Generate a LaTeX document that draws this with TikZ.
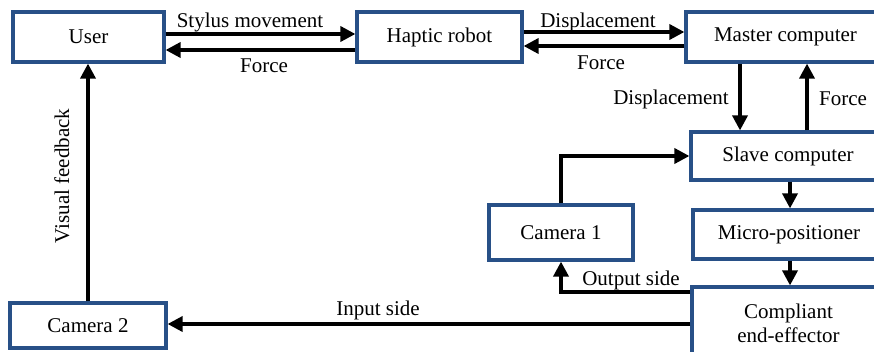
\documentclass[tikz,border=0pt]{standalone}
\usepackage{fontspec}
\setmainfont{Liberation Serif}
\usetikzlibrary{arrows.meta}
\definecolor{boxblue}{RGB}{40,80,135}
\begin{document}
\begin{tikzpicture}[x=1pt,y=-1pt,
  blk/.style={draw=boxblue,line width=3.2pt,fill=white,inner sep=0pt,align=center,font=\fontsize{21}{24}\selectfont},
  arr/.style={line width=3.5pt,-{Triangle[length=15pt,width=15pt]}},
  lbl/.style={font=\fontsize{21}{24}\selectfont,inner sep=0pt}]
\useasboundingbox (0,0) rectangle (874,351);
\node[blk,minimum width=151pt,minimum height=50pt] (user) at (88.5,37) {User};
\node[blk,minimum width=165pt,minimum height=50pt] (haptic) at (439.5,37) {Haptic robot};
\node[blk,minimum width=199pt,minimum height=50pt] (master) at (785.5,37) {Master computer};
\node[blk,minimum width=194pt,minimum height=48pt] (slave) at (788,156) {Slave computer};
\node[blk,minimum width=144pt,minimum height=55pt] (cam1) at (561,232.5) {Camera 1};
\node[blk,minimum width=192pt,minimum height=49pt] (micro) at (789,234.5) {Micro-positioner};
\node[blk,minimum width=193pt,minimum height=73pt] (comp) at (788.5,323.5) {Compliant\\end-effector};
\node[blk,minimum width=156pt,minimum height=45pt] (cam2) at (88,325.5) {Camera 2};
% top row
\draw[arr] (user.east |- 0,34) -- (haptic.west |- 0,34);
\draw[arr] (haptic.west |- 0,50) -- (user.east |- 0,50);
\draw[arr] (haptic.east |- 0,32) -- (master.west |- 0,32);
\draw[arr] (master.west |- 0,46) -- (haptic.east |- 0,46);
\node[lbl] (l1) at (250,22) {Stylus movement};
\node[lbl] (l2) at (264,66) {Force};
\node[lbl] (l3) at (598,22) {Displacement};
\node[lbl] (l4) at (601,63) {Force};
% master <-> slave
\draw[arr] (master.south -| 740,0) -- (slave.north -| 740,0);
\draw[arr] (slave.north -| 807,0) -- (master.south -| 807,0);
\node[lbl] (l5) at (671,99) {Displacement};
\node[lbl] (l6) at (843,99) {Force};
% slave chain
\draw[arr] (slave.south -| 790,0) -- (micro.north -| 790,0);
\draw[arr] (micro.south -| 790,0) -- (comp.north -| 790,0);
\draw[arr] (cam1.north) |- (slave.west);
\draw[arr] (comp.west |- 0,292) -| (cam1.south);
\node[lbl] (l7) at (631,280) {Output side};
\draw[arr] (comp.west |- 0,324) -- (cam2.east |- 0,324);
\node[lbl] (l8) at (378,310) {Input side};
\draw[arr] (cam2.north) -- (user.south -| cam2.north);
\node[lbl,rotate=90] (l9) at (62,176) {Visual feedback};
\end{tikzpicture}
\end{document}
